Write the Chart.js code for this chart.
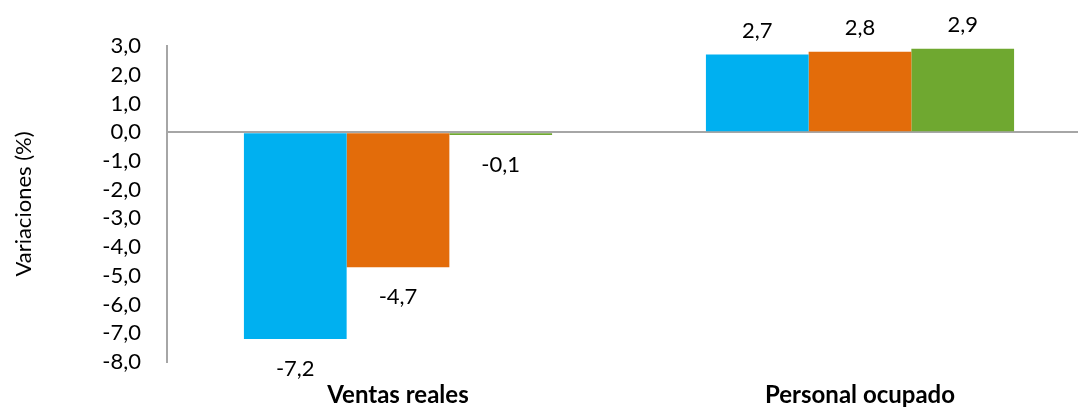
<!DOCTYPE html>
<html lang="es">
<head>
    <meta charset="UTF-8">
    <title>Variaciones (%)</title>
    <script src="https://cdn.jsdelivr.net/npm/chart.js"></script>
    <style>
        body { margin: 0; background: #fff; }
        #wrap { width: 1078px; height: 409px; overflow: hidden; }
    </style>
</head>
<body>
    <div id="wrap">
        <canvas id="chart" width="1092" height="409"></canvas>
    </div>

    <script>
        const categorias = ['Ventas reales', 'Personal ocupado'];
        const serie1 = [-7.2, 2.7];
        const serie2 = [-4.7, 2.8];
        const serie3 = [-0.1, 2.9];
        const colores = ['#00B0F0', '#E36C0A', '#6FA830'];
        const FONT = 'Lato';

        const fmt = v => v.toFixed(1).replace('.', ',');

        // etiquetas de datos: encima si es positivo, debajo si es negativo
        const etiquetas = {
            id: 'etiquetas',
            afterDatasetsDraw(chart) {
                const ctx = chart.ctx;
                ctx.save();
                ctx.font = '22px ' + FONT;
                ctx.fillStyle = '#000';
                ctx.textAlign = 'center';
                ctx.textBaseline = 'middle';
                chart.data.datasets.forEach((ds, i) => {
                    chart.getDatasetMeta(i).data.forEach((bar, j) => {
                        const v = ds.data[j];
                        const y = v >= 0 ? bar.y - 24 : bar.y + 30;
                        ctx.fillText(fmt(v), bar.x, y);
                    });
                });
                ctx.restore();
            }
        };

        new Chart(document.getElementById('chart'), {
            type: 'bar',
            data: {
                labels: categorias,
                datasets: [
                    { label: 'Serie 1', data: serie1, backgroundColor: colores[0] },
                    { label: 'Serie 2', data: serie2, backgroundColor: colores[1] },
                    { label: 'Serie 3', data: serie3, backgroundColor: colores[2] }
                ]
            },
            options: {
                responsive: false,
                animation: false,
                categoryPercentage: 0.667,
                barPercentage: 1.0,
                layout: { padding: { top: 46, bottom: 0, left: 0, right: 1 } },
                plugins: {
                    legend: { display: false },
                    tooltip: { enabled: false }
                },
                scales: {
                    x: {
                        afterFit: s => { s.height = 47; },
                        grid: { display: false },
                        border: { display: false },
                        ticks: {
                            padding: 11,
                            color: '#000',
                            maxRotation: 0,
                            font: { family: FONT, size: 24, weight: 'bold' }
                        }
                    },
                    y: {
                        min: -8,
                        max: 3,
                        afterFit: s => { s.width = 167; },
                        ticks: {
                            stepSize: 1,
                            autoSkip: false,
                            padding: 26,
                            color: '#000',
                            font: { family: FONT, size: 22 },
                            callback: v => fmt(v)
                        },
                        grid: {
                            drawTicks: false,
                            lineWidth: 2,
                            color: c => c.tick && c.tick.value === 0 ? '#A6A6A6' : 'transparent'
                        },
                        border: { display: true, color: '#A6A6A6', width: 2 },
                        title: {
                            display: true,
                            text: 'Variaciones (%)',
                            color: '#000',
                            padding: { top: 11, bottom: 0 },
                            font: { family: FONT, size: 22 }
                        }
                    }
                }
            },
            plugins: [etiquetas]
        });
    </script>
</body>
</html>
